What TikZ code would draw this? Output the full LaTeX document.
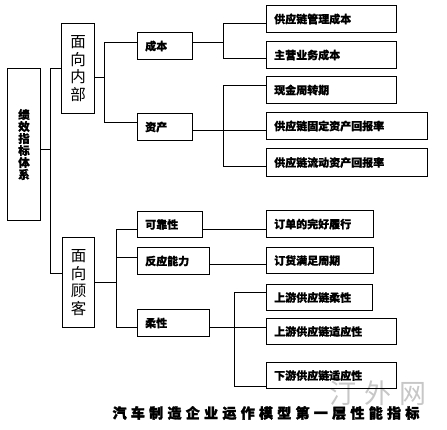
\documentclass[tikz,border=0pt]{standalone}
\usepackage{fontspec}
\newfontfamily\cjk{Noto Sans CJK SC}
\newfontfamily\cjkh[BoldFeatures={FakeBold=0.8}]{Noto Sans CJK SC}
\newfontfamily\cjkx[BoldFeatures={FakeBold=2}]{Noto Sans CJK SC}
\begin{document}
\begin{tikzpicture}[x=1pt,y=-1pt,
  every node/.style={font=\cjk},
  ln/.style={line width=0.9pt},
  bx/.style={draw,line width=1pt,inner sep=0pt,anchor=north west},
  vbx/.style={draw,line width=1pt,inner sep=0pt,anchor=north west,align=center}]
\useasboundingbox (0,0) rectangle (447,429);
% watermark
\node[text=black!22,font=\cjk\fontsize{27}{27}\selectfont,inner sep=0pt] (wm) at (378,393) {汀\hspace{8pt}外\hspace{8pt}网};
% boxes: helper macro
\newcommand{\bxn}[6]{\node[bx,minimum width=#4-#2,minimum height=#5-#3] (#1) at (#2,#3) {};
  \node[font=\cjkh\bfseries\fontsize{11}{12}\selectfont,anchor=west,inner sep=0pt] (#1t) at ([xshift=8pt]#1.west) {#6};}
% root
\node[vbx,minimum width=33,minimum height=152] (root) at (7,68) {};
\node[font=\cjkh\bfseries\fontsize{11.5}{12}\selectfont,align=center,inner sep=0pt] (roott) at (root.center) {绩\\效\\指\\标\\体\\系};
\node[vbx,minimum width=33,minimum height=90] (nb) at (61,23) {};
\node[font=\cjk\fontsize{15.5}{17.5}\selectfont,align=center,inner sep=0pt] (nbt) at (nb.center) {面\\向\\内\\部};
\node[vbx,minimum width=32,minimum height=90] (gk) at (62,237) {};
\node[font=\cjk\fontsize{15.5}{17.5}\selectfont,align=center,inner sep=0pt] (gkt) at (gk.center) {面\\向\\顾\\客};
\bxn{cb}{137}{32}{192}{59}{成本}
\bxn{zc}{137}{113}{192}{140}{资产}
\bxn{kk}{137}{211}{202}{237}{可靠性}
\bxn{fy}{137}{247}{209}{274}{反应能力}
\bxn{rx}{137}{309}{209}{336}{柔性}
\bxn{a1}{266}{5}{396}{32}{供应链管理成本}
\bxn{a2}{266}{41}{396}{68}{主营业务成本}
\bxn{b1}{266}{76}{396}{103}{现金周转期}
\bxn{b2}{266}{112}{427}{139}{供应链固定资产回报率}
\bxn{b3}{266}{148}{427}{176}{供应链流动资产回报率}
\bxn{c1}{266}{210}{373}{237}{订单的完好履行}
\bxn{c2}{266}{247}{373}{273}{订货满足周期}
\bxn{d1}{266}{284}{372}{310}{上游供应链柔性}
\bxn{d2}{266}{318}{396}{344}{上游供应链适应性}
\bxn{d3}{266}{362}{396}{388}{下游供应链适应性}
% connectors
\draw[ln] ([yshift=-5pt]root.east) -- ++(10,0);
\draw[ln] (nb.west) -- ++(-11,0) |- ([yshift=9pt]gk.west);
\draw[ln] ([yshift=-9pt]nb.east) -- ++(10,0);
\draw[ln] ([yshift=4pt]cb.west) -- ++(-33,0) |- ([yshift=4.5pt]zc.west);
\draw[ln] ([yshift=4pt]cb.east) -- ++(31,0);
\draw[ln] ([yshift=-4.5pt]a1.west) -- ++(-43,0) |- ([yshift=-3.5pt]a2.west);
\draw[ln] ([yshift=-3.5pt]zc.east) -- ([yshift=-4.5pt]b2.west);
\draw[ln] ([yshift=4.5pt]b1.west) -- ++(-43,0) |- ([yshift=-4pt]b3.west);
\draw[ln] (gk.east) -- ++(22,0);
\draw[ln] ([yshift=-4.5pt]kk.west) -- ++(-21,0) |- ([yshift=-4.5pt]rx.west);
\draw[ln] ([yshift=3.5pt]fy.west) -- ++(-21,0);
\draw[ln] ([yshift=-4.5pt]kk.east) -- ([yshift=-5pt]c1.west);
\draw[ln] ([yshift=-3.5pt]fy.east) -- ([yshift=-4pt]c2.west);
\draw[ln] ([yshift=-4.5pt]rx.east) -- ([yshift=4pt]d2.west);
\draw[ln] ([yshift=5pt]d1.west) -- ++(-32,0) |- ([yshift=-11pt]d3.west);
% caption
\node[font=\cjkx\bfseries\fontsize{14}{14}\selectfont,inner sep=0pt] (cap) at (266,413) {汽\hspace{4.3pt}车\hspace{4.3pt}制\hspace{4.3pt}造\hspace{4.3pt}企\hspace{4.3pt}业\hspace{4.3pt}运\hspace{4.3pt}作\hspace{4.3pt}模\hspace{4.3pt}型\hspace{4.3pt}第\hspace{4.3pt}一\hspace{4.3pt}层\hspace{4.3pt}性\hspace{4.3pt}能\hspace{4.3pt}指\hspace{4.3pt}标};
\end{tikzpicture}
\end{document}
